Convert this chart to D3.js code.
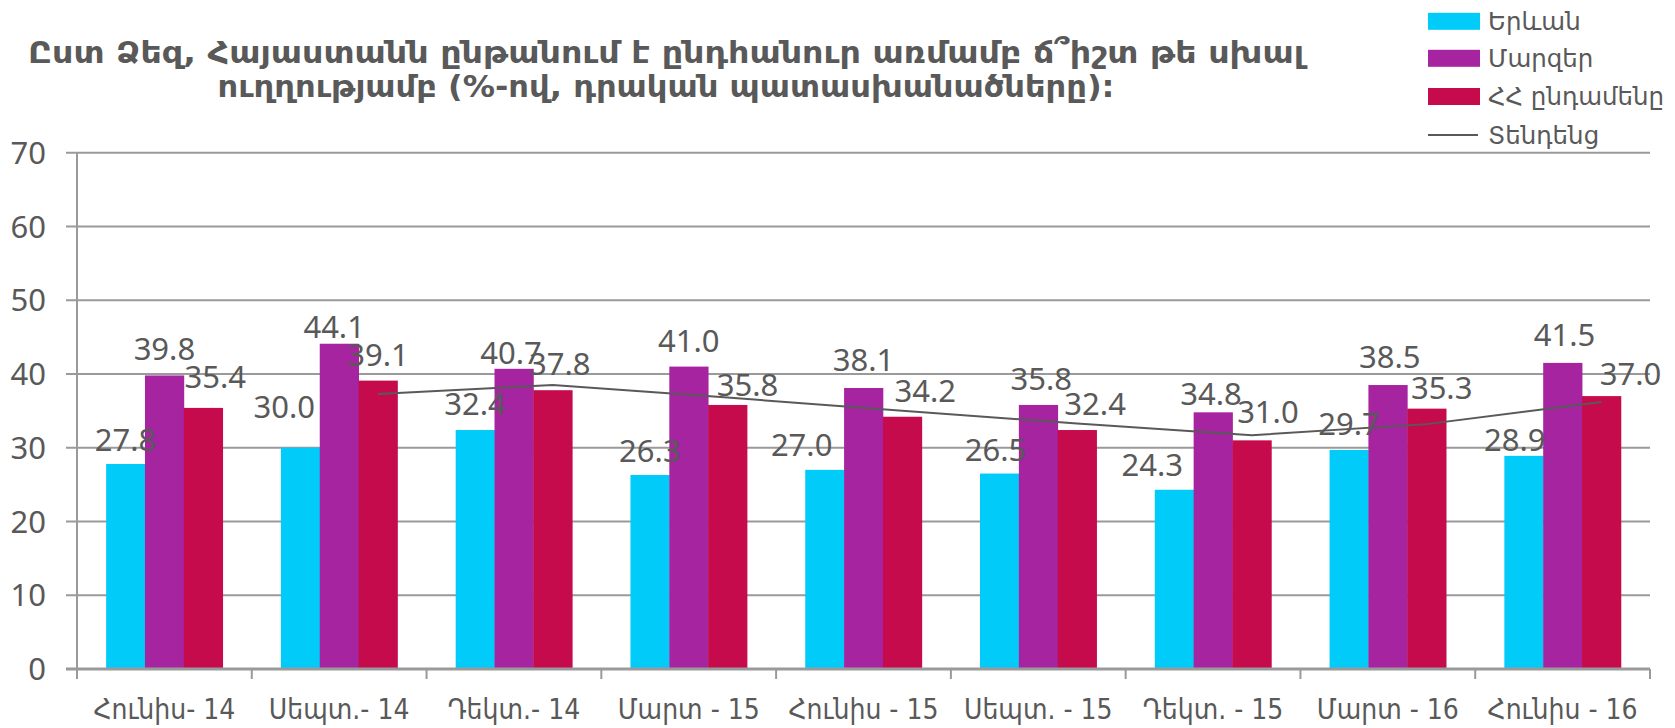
<!DOCTYPE html>
<html>
<head>
<meta charset="utf-8">
<script src="https://cdn.jsdelivr.net/npm/d3@7"></script>
<style>
  html, body { margin: 0; padding: 0; background: #ffffff; }
  svg { display: block; }
</style>
</head>
<body>
<svg id="chart" width="1675" height="728"></svg>
<script>
// Survey waves (x categories)
const categories = ["Հունիս- 14", "Սեպտ.- 14", "Դեկտ.- 14", "Մարտ - 15", "Հունիս - 15",
                    "Սեպտ. - 15", "Դեկտ. - 15", "Մարտ - 16", "Հունիս - 16"];

// Share of positive answers, %
const seriesNames = ["Երևան", "Մարզեր", "ՀՀ ընդամենը"];
const yerevan = [27.8, 30.0, 32.4, 26.3, 27.0, 26.5, 24.3, 29.7, 28.9];
const regions = [39.8, 44.1, 40.7, 41.0, 38.1, 35.8, 34.8, 38.5, 41.5];
const total   = [35.4, 39.1, 37.8, 35.8, 34.2, 32.4, 31.0, 35.3, 37.0];

// Trend line (two-wave moving average of the national total), from the 2nd wave on
const trendName = "Տենդենց";
const trendValues = [37.3, 38.5, 36.8, 35.0, 33.3, 31.7, 33.2, 36.2];

const yTicks = [0, 10, 20, 30, 40, 50, 60, 70];

const titleLines = [
  "Ըստ Ձեզ, Հայաստանն ընթանում է  ընդհանուր առմամբ  ճ՞իշտ թե  սխալ",
  "ուղղությամբ (%-ով, դրական պատասխանածները):"
];

// Hand placement of a few value labels that would otherwise collide [dx, dy]
const labelShift = [
  [[0, 2], [-16, -15], [0, 0], [0, 2], [-23, 1], [-4, 2], [-22, 1], [0, 0], [-9, 10]],
  [[0, 0], [-5, 9], [-3, 10], [0, 0], [0, -2], [3, 0], [-2, 8], [2, -2], [2, -2]],
  [[12, -5], [0, 0], [7, 0], [20, 6], [23, 0], [18, 0], [16, -2], [15, 5], [29, 4]]
];

const colors = ["#00CBF9", "#A724A1", "#C60B4C"];
const textColor = "#595959";
const gridColor = "#9a9a9a";

const svg = d3.select("#chart");
const plot = { left: 77, right: 1650, top: 152.7, bottom: 669 };

const x0 = d3.scaleBand().domain(categories).range([plot.left, plot.right]).padding(0);
const x1 = d3.scaleBand().domain(d3.range(seriesNames.length))
  .range([0, x0.bandwidth()]).paddingInner(0).paddingOuter(0.75);
const y = d3.scaleLinear().domain([0, 70]).range([plot.bottom, plot.top]);

const seriesData = [yerevan, regions, total];

// Horizontal gridlines + left ticks
svg.append("g").selectAll("line").data(yTicks.filter(t => t > 0)).join("line")
  .attr("x1", plot.left - 11).attr("x2", plot.right)
  .attr("y1", d => y(d)).attr("y2", d => y(d))
  .attr("stroke", gridColor).attr("stroke-width", 2);

// Y axis line
svg.append("line")
  .attr("x1", plot.left).attr("x2", plot.left)
  .attr("y1", y(70)).attr("y2", plot.bottom)
  .attr("stroke", gridColor).attr("stroke-width", 2);

// Y tick labels
svg.append("g").selectAll("text").data(yTicks).join("text")
  .attr("x", 46).attr("y", d => y(d)).attr("dy", "0.36em")
  .attr("text-anchor", "end")
  .attr("font-family", "'Noto Sans', 'DejaVu Sans', sans-serif")
  .attr("font-size", 31).attr("fill", textColor)
  .text(d => d);

// Bars
const groups = svg.append("g").selectAll("g").data(categories).join("g")
  .attr("transform", c => `translate(${x0(c)},0)`);
groups.selectAll("rect").data((c, i) => seriesData.map((s, k) => ({ k, v: s[i] }))).join("rect")
  .attr("x", d => x1(d.k)).attr("width", x1.bandwidth() + 0.4)
  .attr("y", d => y(d.v)).attr("height", d => y(0) - y(d.v))
  .attr("fill", d => colors[d.k]);

// X axis line with category-boundary ticks
svg.append("line")
  .attr("x1", plot.left - 11).attr("x2", plot.right)
  .attr("y1", plot.bottom).attr("y2", plot.bottom)
  .attr("stroke", gridColor).attr("stroke-width", 3);
const bounds = categories.map(c => x0(c)).concat([plot.right]);
svg.append("g").selectAll("line").data(bounds).join("line")
  .attr("x1", d => d).attr("x2", d => d)
  .attr("y1", plot.bottom).attr("y2", plot.bottom + 10)
  .attr("stroke", gridColor).attr("stroke-width", 2);

// X category labels
svg.append("g").selectAll("text").data(categories).join("text")
  .attr("x", c => x0(c) + x0.bandwidth() / 2).attr("y", 719)
  .attr("text-anchor", "middle")
  .attr("font-family", "'DejaVu Sans Condensed', 'DejaVu Sans', sans-serif")
  .attr("font-stretch", "condensed")
  .attr("font-size", 28).attr("fill", textColor)
  .text(c => c);

// Trend line through the national-total bars
const trendPts = trendValues.map((v, i) => {
  const c = categories[i + 1];
  return [x0(c) + x1(2) + x1.bandwidth() / 2, y(v)];
});
svg.append("path")
  .attr("d", d3.line()(trendPts))
  .attr("fill", "none").attr("stroke", textColor).attr("stroke-width", 2);

// Value labels
const labels = [];
seriesData.forEach((s, k) => s.forEach((v, i) => labels.push({ k, i, v })));
svg.append("g").selectAll("text").data(labels).join("text")
  .attr("x", d => x0(categories[d.i]) + x1(d.k) + x1.bandwidth() / 2 + labelShift[d.k][d.i][0])
  .attr("y", d => y(d.v) - 15 + labelShift[d.k][d.i][1])
  .attr("text-anchor", "middle")
  .attr("font-family", "'Noto Sans', 'DejaVu Sans', sans-serif")
  .attr("font-size", 31).attr("fill", textColor)
  .text(d => d.v.toFixed(1));

// Title, two centred lines stretched to their set widths
const titleLayout = [{ y: 63, w: 1276 }, { y: 97, w: 897 }];
svg.append("g").selectAll("text").data(titleLines).join("text")
  .attr("x", 666).attr("y", (d, i) => titleLayout[i].y)
  .attr("text-anchor", "middle")
  .attr("font-family", "'DejaVu Sans Condensed', 'DejaVu Sans', sans-serif")
  .attr("font-stretch", "condensed")
  .attr("font-weight", "bold")
  .attr("font-size", 31).attr("fill", textColor)
  .attr("textLength", (d, i) => titleLayout[i].w)
  .attr("lengthAdjust", "spacingAndGlyphs")
  .text(d => d);

// Legend
const legendRows = [21.3, 58.3, 96.5, 135];
const legend = svg.append("g");
seriesNames.forEach((name, k) => {
  legend.append("rect").attr("x", 1428).attr("y", legendRows[k] - 8.5)
    .attr("width", 52).attr("height", 17).attr("fill", colors[k]);
});
legend.append("line").attr("x1", 1428).attr("x2", 1478)
  .attr("y1", legendRows[3]).attr("y2", legendRows[3])
  .attr("stroke", textColor).attr("stroke-width", 2);
legend.selectAll("text").data(seriesNames.concat([trendName])).join("text")
  .attr("x", 1488).attr("y", (d, i) => legendRows[i]).attr("dy", "0.36em")
  .attr("font-family", "'DejaVu Sans', sans-serif")
  .attr("font-size", 24.5).attr("fill", textColor)
  .text(d => d);
</script>
</body>
</html>
